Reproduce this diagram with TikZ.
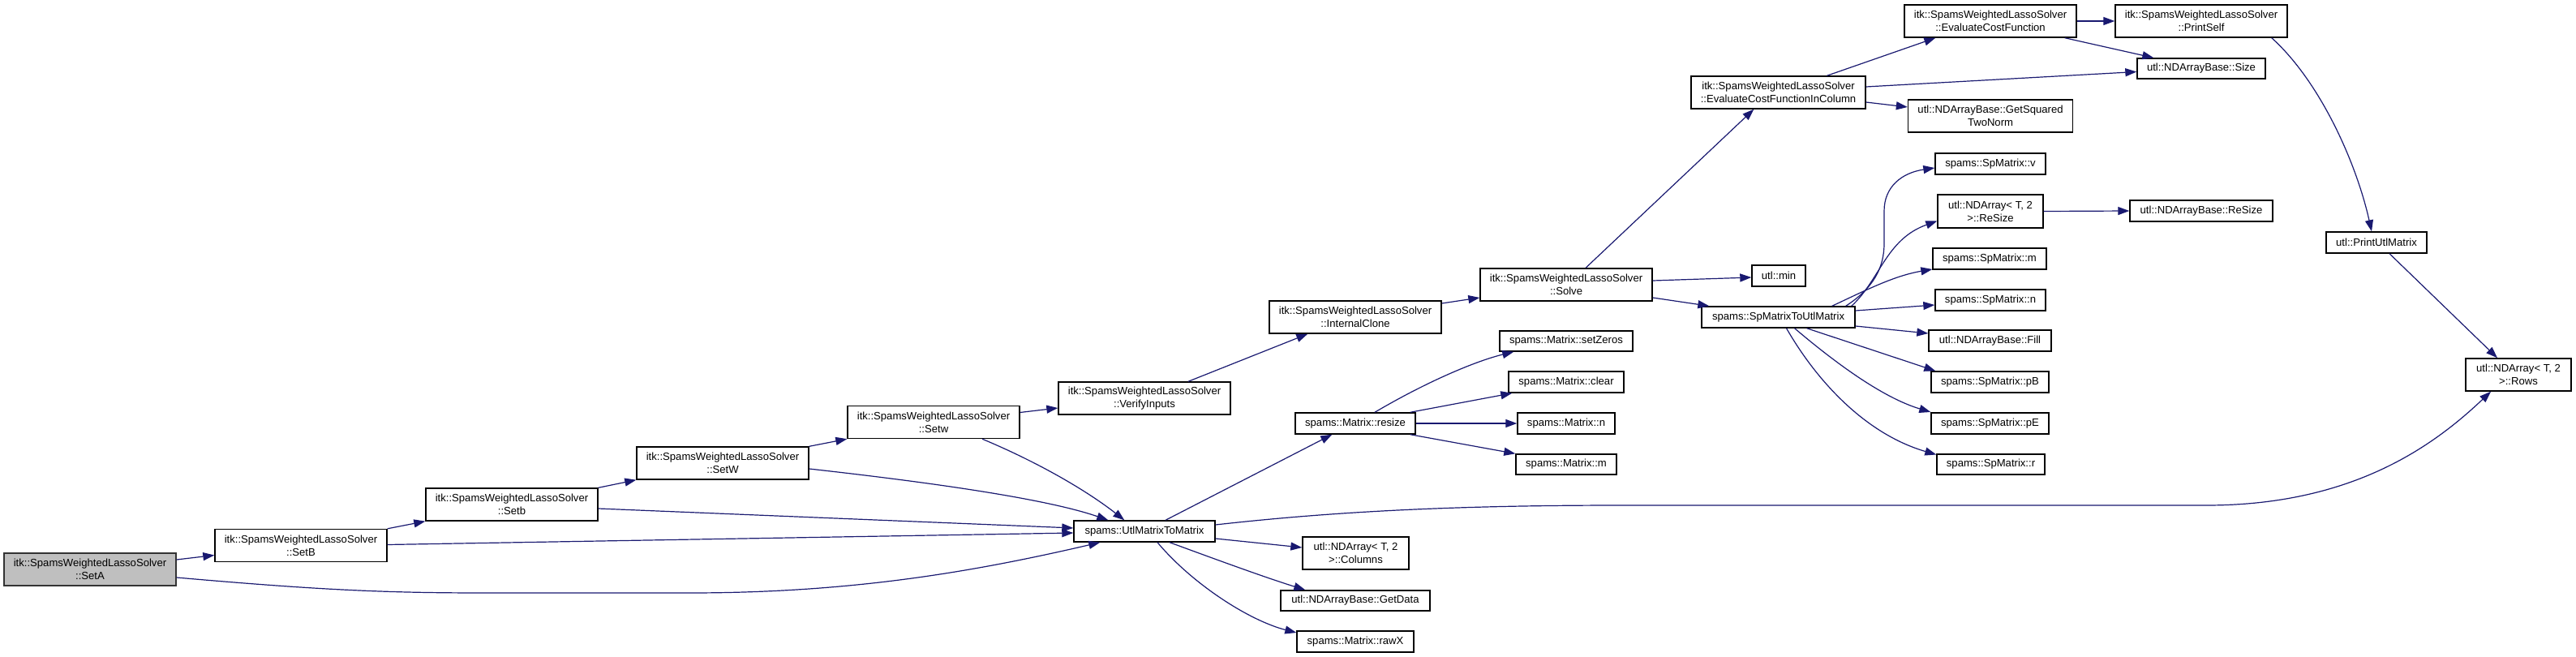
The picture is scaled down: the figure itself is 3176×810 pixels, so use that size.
\documentclass[tikz,border=0pt]{standalone}
\usepackage{fontspec}
\setmainfont{Liberation Sans}
\usetikzlibrary{arrows.meta,calc}
\definecolor{edgec}{HTML}{191970}
\definecolor{rootfill}{HTML}{BFBFBF}
\tikzset{
  box/.style={draw=black, line width=1.4pt, fill=white, inner sep=0pt, align=center,
    font=\fontsize{13.1}{15.7}\selectfont, minimum height=26pt},
  box2/.style={box, minimum height=40pt},
  edge/.style={draw=edgec, line width=1.2pt, -{Triangle[length=14pt,width=10pt]}},
}
\begin{document}
\begin{tikzpicture}[x=1pt,y=-1pt]
\useasboundingbox (0,0) rectangle (3176,810);
% nodes
\node[box2, fill=rootfill, draw=black!80, minimum width=212pt] (SetA) at (111,702) {itk::SpamsWeightedLassoSolver\\::SetA};
\node[box2, minimum width=212pt] (SetB) at (371,672.5) {itk::SpamsWeightedLassoSolver\\::SetB};
\node[box2, minimum width=212pt] (Setb) at (631,622) {itk::SpamsWeightedLassoSolver\\::Setb};
\node[box2, minimum width=212pt] (SetW) at (891,571) {itk::SpamsWeightedLassoSolver\\::SetW};
\node[box2, minimum width=212pt] (Setw) at (1151,520.5) {itk::SpamsWeightedLassoSolver\\::Setw};
\node[box2, minimum width=212pt] (Verify) at (1411,491) {itk::SpamsWeightedLassoSolver\\::VerifyInputs};
\node[box2, minimum width=212pt] (Clone) at (1671,391) {itk::SpamsWeightedLassoSolver\\::InternalClone};
\node[box2, minimum width=212pt] (Solve) at (1931,351) {itk::SpamsWeightedLassoSolver\\::Solve};
\node[box2, minimum width=215pt] (ECFIC) at (2192.5,114) {itk::SpamsWeightedLassoSolver\\::EvaluateCostFunctionInColumn};
\node[box2, minimum width=212pt] (ECF) at (2454,26) {itk::SpamsWeightedLassoSolver\\::EvaluateCostFunction};
\node[box2, minimum width=212pt] (PrintSelf) at (2714,26) {itk::SpamsWeightedLassoSolver\\::PrintSelf};
\node[box, minimum width=158pt, minimum height=25pt] (Size) at (2714,84.5) {utl::NDArrayBase::Size};
\node[box2, minimum width=203pt] (GetSq) at (2454,143) {utl::NDArrayBase::GetSquared\\TwoNorm};
\node[box, minimum width=136pt] (Spv) at (2454,202) {spams::SpMatrix::v};
\node[box2, minimum width=130pt, minimum height=41pt] (NDReSize) at (2454,260.5) {utl::NDArray< T, 2\\>::ReSize};
\node[box, minimum width=176pt] (NDBReSize) at (2714,260) {utl::NDArrayBase::ReSize};
\node[box, minimum width=124pt] (PrintUtl) at (2930,299) {utl::PrintUtlMatrix};
\node[box, minimum width=140pt] (Spm) at (2453,319) {spams::SpMatrix::m};
\node[box, minimum width=66pt] (min) at (2193,340) {utl::min};
\node[box, minimum width=136pt] (Spn) at (2454,370) {spams::SpMatrix::n};
\node[box, minimum width=189pt] (SpM2U) at (2192.5,391) {spams::SpMatrixToUtlMatrix};
\node[box, minimum width=151pt] (Fill) at (2453.5,420) {utl::NDArrayBase::Fill};
\node[box, minimum width=145pt] (pB) at (2453.5,471) {spams::SpMatrix::pB};
\node[box, minimum width=145pt] (pE) at (2453.5,522) {spams::SpMatrix::pE};
\node[box, minimum width=133pt, minimum height=25pt] (Spr) at (2454.5,572.5) {spams::SpMatrix::r};
\node[box2, minimum width=130pt] (Rows) at (3105,462) {utl::NDArray< T, 2\\>::Rows};
\node[box, minimum width=164pt, minimum height=25pt] (setZeros) at (1931,420.5) {spams::Matrix::setZeros};
\node[box, minimum width=142pt] (clear) at (1931,471) {spams::Matrix::clear};
\node[box, minimum width=120pt] (Mn) at (1931,522) {spams::Matrix::n};
\node[box, minimum width=124pt, minimum height=25pt] (Mm) at (1931,572.5) {spams::Matrix::m};
\node[box, minimum width=148pt] (resize) at (1671,522) {spams::Matrix::resize};
\node[box, minimum width=174pt] (UtlM) at (1411,655) {spams::UtlMatrixToMatrix};
\node[box2, minimum width=131pt] (Columns) at (1671.5,682) {utl::NDArray< T, 2\\>::Columns};
\node[box, minimum width=184pt, minimum height=25pt] (GetData) at (1671,740.5) {utl::NDArrayBase::GetData};
\node[box, minimum width=144pt] (rawX) at (1671,791) {spams::Matrix::rawX};
% edges
\draw[edge] ($(SetA.east)+(0,-12)$) -- ($(SetB.west)+(0,12)$);
\draw[edge] ($(SetA.east)+(0,10)$) .. controls (400,728) and (480,731) .. (600,731) -- (850,731) .. controls (1050,731) and (1200,705) .. ($(UtlM.south west)+(33,0)$);
\draw[edge] (SetB.north east) -- (Setb.south west);
\draw[edge] ($(SetB.east)+(0,-1)$) -- ($(UtlM.west)+(0,2)$);
\draw[edge] (Setb.north east) -- (SetW.south west);
\draw[edge] ($(Setb.east)+(0,5)$) -- ($(UtlM.west)+(0,-4)$);
\draw[edge] (SetW.north east) -- (Setw.south west);
\draw[edge] ($(SetW.east)+(0,7)$) .. controls (1150,595) and (1290,615) .. ($(UtlM.north west)+(43,0)$);
\draw[edge] ($(Setw.east)+(0,-12)$) -- ($(Verify.west)+(0,12)$);
\draw[edge] ($(Setw.south)+(60,0)$) .. controls (1280,570) and (1340,605) .. ($(UtlM.north west)+(63,0)$);
\draw[edge] ($(Verify.north)+(54,0)$) -- ($(Clone.south west)+(48,0)$);
\draw[edge] ($(Clone.east)+(0,-17)$) -- ($(Solve.west)+(0,16)$);
\draw[edge] ($(Solve.north)+(24,0)$) -- ($(ECFIC.south west)+(78,0)$);
\draw[edge] ($(Solve.east)+(0,-5)$) -- ($(min.west)+(0,2)$);
\draw[edge] ($(Solve.east)+(0,16)$) -- ($(SpM2U.north west)+(10,0)$);
\draw[edge] ($(ECFIC.north)+(60,0)$) -- ($(ECF.south west)+(39,0)$);
\draw[edge] ($(ECFIC.east)+(0,-7)$) -- ($(Size.west)+(0,4)$);
\draw[edge] ($(ECFIC.east)+(0,12)$) -- ($(GetSq.west)+(0,-11)$);
\draw[edge] (ECF.east) -- (PrintSelf.west);
\draw[edge] ($(ECF.south east)+(-15,0)$) -- ($(Size.north west)+(21,0)$);
\draw[edge] ($(PrintSelf.south east)+(-20,0)$) .. controls (2860,100) and (2905,200) .. ($(PrintUtl.north)+(-6,0)$);
\draw[edge] ($(PrintUtl.south)+(16,0)$) -- ($(Rows.north)+(-26,0)$);
\draw[edge] ($(UtlM.east)+(0,-8)$) .. controls (1650,630) and (1800,623) .. (2000,623) -- (2720,623) .. controls (2900,623) and (3000,550) .. ($(Rows.south)+(-34,0)$);
\draw[edge] ($(UtlM.north)+(26,0)$) -- ($(resize.south west)+(46,0)$);
\draw[edge] ($(UtlM.east)+(0,9)$) -- ($(Columns.west)+(0,-7)$);
\draw[edge] ($(UtlM.south)+(31,0)$) .. controls (1500,690) and (1560,712) .. ($(GetData.north west)+(31,0)$);
\draw[edge] ($(UtlM.south)+(16,0)$) .. controls (1470,720) and (1540,765) .. ($(rawX.west)+(0,-11)$);
\draw[edge] ($(resize.north)+(24,0)$) .. controls (1760,470) and (1820,445) .. ($(setZeros.south west)+(18,0)$);
\draw[edge] ($(resize.north east)+(-7,0)$) -- ($(clear.south west)+(5,0)$);
\draw[edge] (resize.east) -- (Mn.west);
\draw[edge] ($(resize.south east)+(-7,0)$) -- (Mm.north west);
\draw[edge] ($(SpM2U.north east)+(-12,0)$) .. controls (2310,355) and (2323,330) .. (2323,300) -- (2323,260) .. controls (2323,230) and (2345,213) .. ($(Spv.west)+(0,5)$);
\draw[edge] ($(SpM2U.north east)+(-5,0)$) .. controls (2318,345) and (2325,295) .. ($(NDReSize.west)+(0,12)$);
\draw[edge] ($(SpM2U.north east)+(-29,0)$) .. controls (2300,358) and (2335,340) .. ($(Spm.west)+(0,13)$);
\draw[edge] ($(SpM2U.east)+(0,-8)$) -- ($(Spn.west)+(0,6)$);
\draw[edge] ($(SpM2U.east)+(0,11)$) -- ($(Fill.west)+(0,-9)$);
\draw[edge] ($(SpM2U.south)+(35,0)$) -- ($(pB.north west)+(6,0)$);
\draw[edge] ($(SpM2U.south)+(20,0)$) .. controls (2260,445) and (2320,490) .. ($(pE.west)+(0,-14)$);
\draw[edge] ($(SpM2U.south)+(10,0)$) .. controls (2240,470) and (2300,535) .. ($(Spr.west)+(0,-12)$);
\draw[edge] (NDReSize.east) -- (NDBReSize.west);
\end{tikzpicture}
\end{document}
